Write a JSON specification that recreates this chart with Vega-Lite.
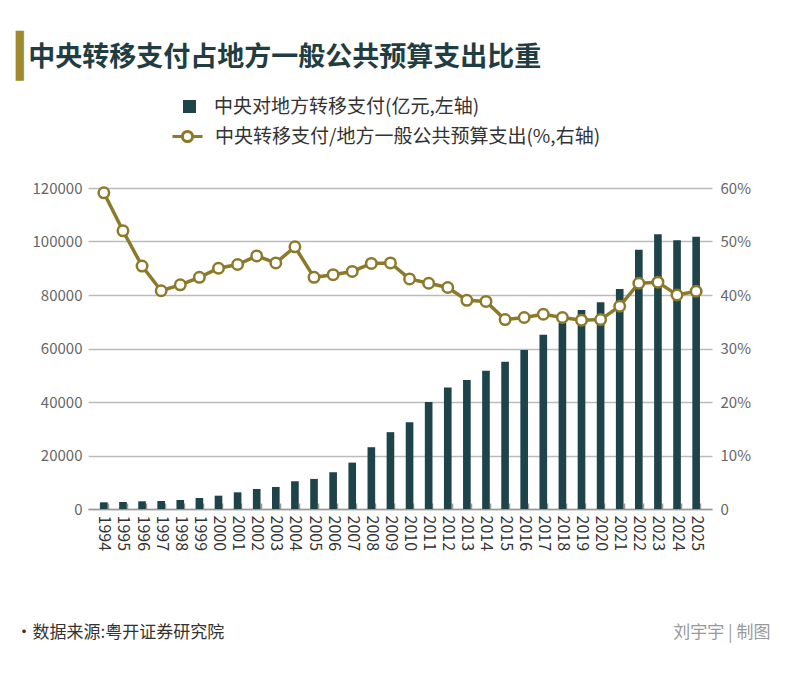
{
  "$schema": "https://vega.github.io/schema/vega-lite/v6.json",
  "width": 624,
  "height": 321,
  "autosize": {"type": "pad"},
  "padding": {"left": 15, "top": 36, "right": 10, "bottom": 10},
  "background": "white",
  "title": {
    "text": "▎",
    "subtitle": "\u200b\u00a0\u00a0中央转移支付占地方一般公共预算支出比重",
    "anchor": "start",
    "frame": "bounds",
    "dx": 1,
    "font": "DejaVu Sans",
    "fontSize": 42,
    "color": "#a08a2e",
    "subtitleFont": "Noto Sans CJK SC",
    "subtitleFontSize": 27,
    "subtitleFontWeight": "bold",
    "subtitleColor": "#1f3d42",
    "subtitlePadding": -34,
    "offset": 18
  },
  "data": {
    "values": [
      {"year": "1994", "amount": 2500, "ratio": 59.1},
      {"year": "1995", "amount": 2620, "ratio": 52.0},
      {"year": "1996", "amount": 2880, "ratio": 45.4},
      {"year": "1997", "amount": 3000, "ratio": 40.8},
      {"year": "1998", "amount": 3370, "ratio": 41.9},
      {"year": "1999", "amount": 4120, "ratio": 43.3},
      {"year": "2000", "amount": 4980, "ratio": 45.0},
      {"year": "2001", "amount": 6240, "ratio": 45.7},
      {"year": "2002", "amount": 7490, "ratio": 47.3},
      {"year": "2003", "amount": 8240, "ratio": 46.0},
      {"year": "2004", "amount": 10370, "ratio": 49.0},
      {"year": "2005", "amount": 11240, "ratio": 43.3},
      {"year": "2006", "amount": 13740, "ratio": 43.8},
      {"year": "2007", "amount": 17340, "ratio": 44.4},
      {"year": "2008", "amount": 23100, "ratio": 45.9},
      {"year": "2009", "amount": 28720, "ratio": 46.0},
      {"year": "2010", "amount": 32470, "ratio": 43.0},
      {"year": "2011", "amount": 39960, "ratio": 42.2},
      {"year": "2012", "amount": 45430, "ratio": 41.4},
      {"year": "2013", "amount": 48200, "ratio": 39.0},
      {"year": "2014", "amount": 51690, "ratio": 38.8},
      {"year": "2015", "amount": 55070, "ratio": 35.4},
      {"year": "2016", "amount": 59440, "ratio": 35.8},
      {"year": "2017", "amount": 65160, "ratio": 36.4},
      {"year": "2018", "amount": 69500, "ratio": 35.8},
      {"year": "2019", "amount": 74390, "ratio": 35.3},
      {"year": "2020", "amount": 77270, "ratio": 35.4},
      {"year": "2021", "amount": 82240, "ratio": 37.9},
      {"year": "2022", "amount": 96940, "ratio": 42.2},
      {"year": "2023", "amount": 102690, "ratio": 42.4},
      {"year": "2024", "amount": 100440, "ratio": 40.0},
      {"year": "2025", "amount": 101800, "ratio": 40.7}
    ]
  },
  "encoding": {
    "x": {
      "field": "year",
      "type": "ordinal",
      "scale": {"paddingInner": 0.6, "paddingOuter": 0.63},
      "axis": {
        "title": "·数据来源:粤开证券研究院",
        "titleFont": "Noto Sans CJK SC",
        "titleFontSize": 17,
        "titleFontWeight": "normal",
        "titleColor": "#333333",
        "titleAnchor": "start",
        "titleAlign": "left",
        "titleBaseline": "middle",
        "titleX": -73,
        "titleY": 123,
        "labelAngle": 90,
        "labelFont": "Noto Sans CJK SC",
        "labelFontSize": 16,
        "labelColor": "#333333",
        "labelPadding": 12,
        "tickBand": "extent",
        "tickColor": "#999999",
        "tickSize": -6,
        "tickWidth": 1.5,
        "domainColor": "#999999",
        "domainWidth": 1.5
      }
    }
  },
  "layer": [
    {
      "mark": {"type": "bar", "color": "#1e4349"},
      "encoding": {
        "y": {
          "field": "amount",
          "type": "quantitative",
          "scale": {"domain": [0, 120000]},
          "axis": {
            "title": null,
            "values": [0, 20000, 40000, 60000, 80000, 100000, 120000],
            "format": "d",
            "grid": true,
            "gridColor": "#bbbbbb",
            "gridWidth": 1.5,
            "domain": false,
            "ticks": false,
            "labelFont": "Noto Sans CJK SC",
            "labelFontSize": 15,
            "labelColor": "#666666",
            "labelPadding": 6
          }
        },
        "fill": {
          "datum": "中央对地方转移支付(亿元,左轴)",
          "scale": {"range": ["#1e4349"]},
          "legend": {
            "title": null,
            "orient": "none",
            "legendX": 92,
            "legendY": -91,
            "padding": 0,
            "symbolType": "square",
            "symbolSize": 170,
            "symbolStrokeWidth": 0,
            "labelOffset": 15,
            "labelFont": "Noto Sans CJK SC",
            "labelFontSize": 19,
            "labelColor": "#333333",
            "labelLimit": 600
          }
        }
      }
    },
    {
      "mark": {"type": "line", "color": "#8c7a2a", "strokeWidth": 3.5},
      "encoding": {
        "y": {
          "field": "ratio",
          "type": "quantitative",
          "scale": {"domain": [0, 60]},
          "axis": {
            "orient": "right",
            "title": "刘宇宇 | 制图",
            "titleFont": "Noto Sans CJK SC",
            "titleFontSize": 17,
            "titleFontWeight": "normal",
            "titleColor": "#999999",
            "titleAngle": 0,
            "titleAlign": "right",
            "titleBaseline": "middle",
            "titleX": 58,
            "titleY": 444,
            "values": [0, 10, 20, 30, 40, 50, 60],
            "labelExpr": "datum.value === 0 ? '0' : datum.value + '%'",
            "grid": false,
            "domain": false,
            "ticks": false,
            "labelFont": "Noto Sans CJK SC",
            "labelFontSize": 15,
            "labelColor": "#666666",
            "labelPadding": 8
          }
        },
        "stroke": {
          "datum": "中央转移支付/地方一般公共预算支出(%,右轴)",
          "scale": {"range": ["#8c7a2a"]},
          "legend": {
            "title": null,
            "orient": "none",
            "legendX": 83,
            "legendY": -68,
            "padding": 0,
            "symbolType": "M-1,0L-0.34,0M0.34,0L1,0M0.34,0A0.34,0.34,0,1,1,-0.34,0A0.34,0.34,0,1,1,0.34,0",
            "symbolSize": 900,
            "symbolStrokeWidth": 3,
            "symbolFillColor": "white",
            "labelOffset": 11,
            "labelFont": "Noto Sans CJK SC",
            "labelFontSize": 19,
            "labelColor": "#333333",
            "labelLimit": 600,
            "encode": {"symbols": {"update": {"fill": {"value": "white"}}}}
          }
        }
      }
    },
    {
      "mark": {"type": "point", "filled": true, "fill": "white", "stroke": "#8c7a2a", "strokeWidth": 2.5, "size": 110, "opacity": 1},
      "encoding": {
        "y": {"field": "ratio", "type": "quantitative", "scale": {"domain": [0, 60]}, "axis": null}
      }
    }
  ],
  "resolve": {"scale": {"y": "independent", "fill": "independent", "stroke": "independent"}},
  "config": {
    "view": {"stroke": null},
    "font": "Noto Sans CJK SC"
  }
}
